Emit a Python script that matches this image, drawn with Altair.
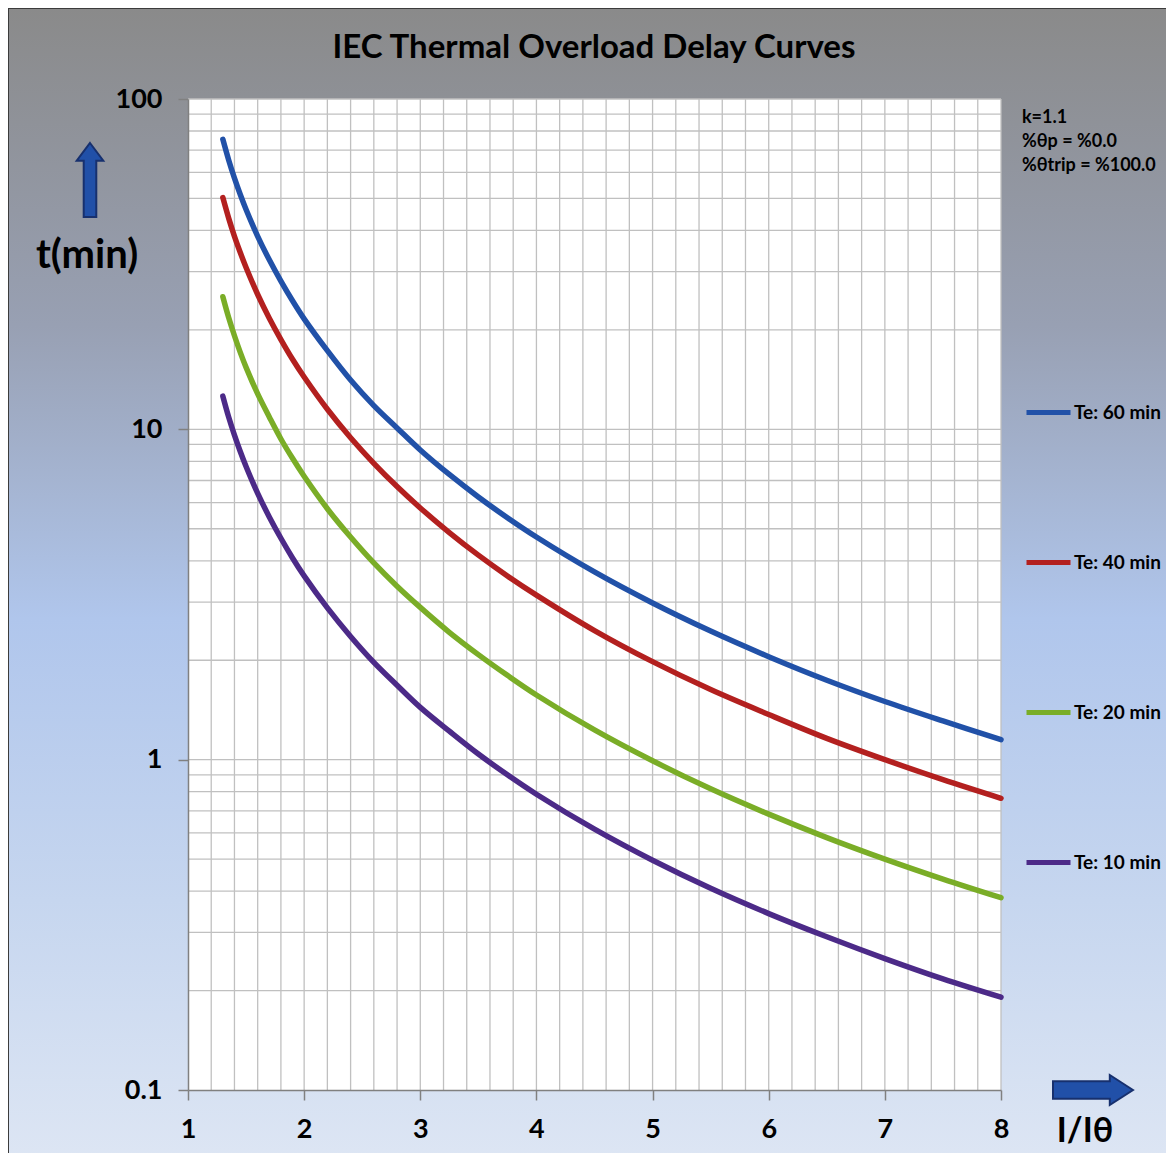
import altair as alt
import pandas as pd

# ---------------- data ----------------
current = [1.3, 1.35, 1.4, 1.45, 1.5, 1.6, 1.7, 1.8, 1.9, 2.0, 2.2, 2.4, 2.6, 2.8,
           3.0, 3.25, 3.5, 3.75, 4.0, 4.5, 5.0, 5.5, 6.0, 6.5, 7.0, 7.5, 8.0]
t60 = [75.5, 65.4, 57.6, 51.4, 46.3, 38.4, 32.6, 28.1, 24.5, 21.6, 17.3, 14.1, 11.8, 10.1,
       8.66, 7.30, 6.24, 5.40, 4.72, 3.70, 2.98, 2.45, 2.05, 1.74, 1.50, 1.31, 1.15]
t40 = [50.3, 43.6, 38.4, 34.3, 30.9, 25.6, 21.7, 18.7, 16.3, 14.4, 11.5, 9.43, 7.89, 6.71,
       5.78, 4.87, 4.16, 3.60, 3.15, 2.46, 1.98, 1.63, 1.37, 1.16, 1.00, 0.870, 0.764]
t20 = [25.2, 21.8, 19.2, 17.1, 15.4, 12.8, 10.9, 9.35, 8.17, 7.21, 5.75, 4.72, 3.94, 3.35,
       2.89, 2.43, 2.08, 1.80, 1.57, 1.23, 0.992, 0.816, 0.684, 0.581, 0.500, 0.435, 0.382]
t10 = [12.6, 10.9, 9.61, 8.57, 7.72, 6.40, 5.43, 4.68, 4.08, 3.60, 2.88, 2.36, 1.97, 1.68,
       1.44, 1.22, 1.04, 0.900, 0.786, 0.616, 0.496, 0.408, 0.342, 0.291, 0.250, 0.217, 0.191]

series_labels = ["Te: 60 min", "Te: 40 min", "Te: 20 min", "Te: 10 min"]
series_colors = ["#2151a8", "#b3201f", "#7aad27", "#4c2a88"]

x_ticks = [1, 2, 3, 4, 5, 6, 7, 8]
y_ticks = [0.1, 1, 10, 100]
x_grid = [1.2, 1.4, 1.6, 1.8, 2.0, 2.2, 2.4, 2.6, 2.8, 3.0, 3.2, 3.4, 3.6, 3.8, 4.0,
          4.2, 4.4, 4.6, 4.8, 5.0, 5.2, 5.4, 5.6, 5.8, 6.0, 6.2, 6.4, 6.6, 6.8, 7.0,
          7.2, 7.4, 7.6, 7.8, 8.0]
y_grid = [0.2, 0.3, 0.4, 0.5, 0.6, 0.7, 0.8, 0.9, 1, 2, 3, 4, 5, 6, 7, 8, 9, 10,
          20, 30, 40, 50, 60, 70, 80, 90, 100]

title_text = "IEC Thermal Overload Delay Curves"
y_title = "t(min)"
x_title = "I/Iθ"
annotations = ["k=1.1", "%θp = %0.0", "%θtrip = %100.0"]

# ---------------- tables ----------------
rows = []
for label, vals in zip(series_labels, [t60, t40, t20, t10]):
    for i, t in zip(current, vals):
        rows.append({"I": i, "t": t, "series": label})
curves_df = pd.DataFrame(rows)
xgrid_df = pd.DataFrame({"I": x_grid})
ygrid_df = pd.DataFrame({"t": y_grid})
one = pd.DataFrame({"k": [0]})

W, H = 813, 991
PAD_L, PAD_T, PAD_R, PAD_B = 180, 91, 165, 63
FONT = "Lato"

x_scale = alt.Scale(domain=[1, 8], nice=False, zero=False)
y_scale = alt.Scale(type="log", domain=[0.1, 100], nice=False)

axis_common = dict(
    grid=False, domainColor="#808080", domainWidth=1.5, tickColor="#808080",
    tickWidth=1.5, tickSize=10, labelFont=FONT, labelFontSize=27,
    labelFontWeight="bold", labelColor="black", title=None, zindex=1,
)
x_axis = alt.Axis(values=x_ticks, labelPadding=16, labelFlush=False, **axis_common)
y_axis = alt.Axis(values=y_ticks, format="~g", labelPadding=16, **axis_common)

gradient = alt.Gradient(
    gradient="linear", x1=0, x2=0, y1=0, y2=1,
    stops=[
        alt.GradientStop(color="#8a8a8a", offset=0),
        alt.GradientStop(color="#98a0b3", offset=0.27),
        alt.GradientStop(color="#b0c6ec", offset=0.52),
        alt.GradientStop(color="#c6d6ef", offset=0.76),
        alt.GradientStop(color="#dfe7f4", offset=1),
    ],
)

bg = alt.Chart(one).mark_rect(fill=gradient, stroke="#3c3c3c", strokeWidth=2).encode(
    x=alt.value(-PAD_L), x2=alt.value(W + PAD_R + 30),
    y=alt.value(-PAD_T), y2=alt.value(H + PAD_B + 30),
)
plot_bg = alt.Chart(one).mark_rect(fill="white").encode(
    x=alt.value(0), x2=alt.value(W), y=alt.value(0), y2=alt.value(H)
)

vgrid = alt.Chart(xgrid_df).mark_rule(color="#c0c0c0", strokeWidth=1.3).encode(
    x=alt.X("I:Q", scale=x_scale, axis=x_axis)
)
hgrid = alt.Chart(ygrid_df).mark_rule(color="#c0c0c0", strokeWidth=1.3).encode(
    y=alt.Y("t:Q", scale=y_scale, axis=y_axis)
)

curves = alt.Chart(curves_df).mark_line(
    strokeWidth=5.5, interpolate="catmull-rom", strokeCap="round"
).encode(
    x=alt.X("I:Q", scale=x_scale, axis=x_axis),
    y=alt.Y("t:Q", scale=y_scale, axis=y_axis),
    color=alt.Color(
        "series:N",
        scale=alt.Scale(domain=series_labels, range=series_colors),
        legend=alt.Legend(
            orient="none", legendX=836, legendY=289, title=None, direction="vertical",
            symbolType="stroke", symbolSize=1936, symbolStrokeWidth=5,
            labelFont=FONT, labelFontSize=19, labelFontWeight="bold",
            labelColor="black", rowPadding=115, labelOffset=1, padding=0,
        ),
    ),
    detail="series:N",
)

title = alt.Chart(one).mark_text(
    text=title_text, font=FONT, fontSize=33, fontWeight="bold",
    align="center", baseline="middle", color="black",
).encode(x=alt.value(406), y=alt.value(-51))

ytitle = alt.Chart(one).mark_text(
    text=y_title, font=FONT, fontSize=40, fontWeight="bold",
    align="center", baseline="middle", color="black",
).encode(x=alt.value(-101), y=alt.value(157))

xtitle = alt.Chart(one).mark_text(
    text=x_title, font=FONT, fontSize=34, fontWeight="bold",
    align="center", baseline="middle", color="black",
).encode(x=alt.value(897), y=alt.value(1033))

notes = alt.Chart(one).mark_text(
    text=annotations, font=FONT, fontSize=18, fontWeight="bold", lineHeight=24,
    align="left", baseline="top", color="black",
).encode(x=alt.value(834), y=alt.value(10))

up_arrow = "M0,-1 L0.36,-0.52 L0.17,-0.52 L0.17,1 L-0.17,1 L-0.17,-0.52 L-0.36,-0.52 Z"
right_arrow = "M1,0 L0.42,-0.375 L0.42,-0.22 L-1,-0.22 L-1,0.22 L0.42,0.22 L0.42,0.375 Z"

arrow_up = alt.Chart(one).mark_point(
    shape=up_arrow, size=5476, filled=True, fill="#2150a8", stroke="#17306e",
    strokeWidth=2, opacity=1,
).encode(x=alt.value(-98), y=alt.value(81))

arrow_right = alt.Chart(one).mark_point(
    shape=right_arrow, size=6400, filled=True, fill="#2150a8", stroke="#17306e",
    strokeWidth=2, opacity=1,
).encode(x=alt.value(905), y=alt.value(991))

chart = alt.layer(
    bg, plot_bg, vgrid, hgrid, curves, title, ytitle, xtitle, notes, arrow_up, arrow_right
).properties(
    width=W, height=H,
    autosize=alt.AutoSizeParams(type="none"),
    padding={"left": PAD_L, "top": PAD_T, "right": PAD_R, "bottom": PAD_B},
).configure_view(stroke=None)

chart.save("out.html", embed_options={"renderer": "svg", "actions": False})
